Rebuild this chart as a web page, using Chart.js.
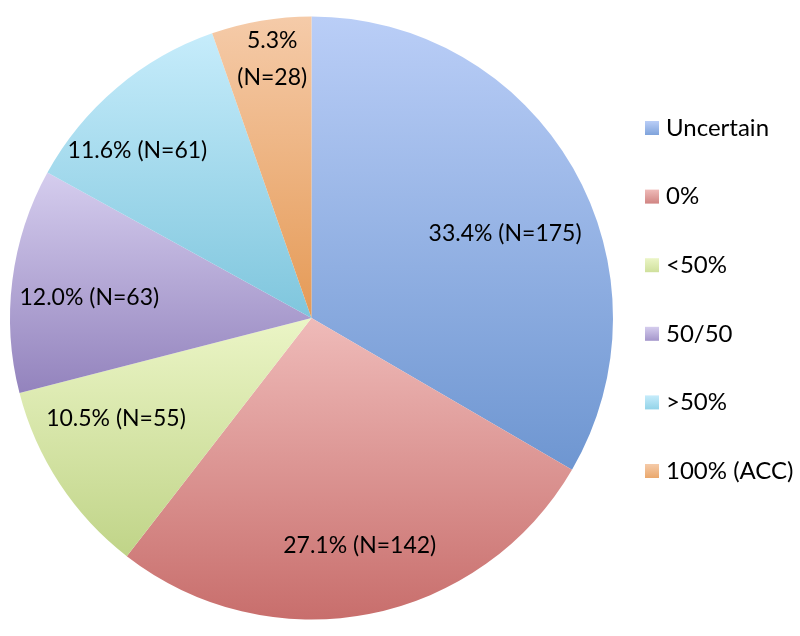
<!DOCTYPE html>
<html>
<head>
<meta charset="utf-8">
<script src="https://cdn.jsdelivr.net/npm/chart.js@4/dist/chart.umd.min.js"></script>
<style>
  html, body { margin: 0; padding: 0; background: #fff; }
  #chartHolder { width: 800px; height: 636px; }
</style>
</head>
<body>
<div id="chartHolder"><canvas id="pieChart" width="800" height="636"></canvas></div>
<script>
const categories = ["Uncertain", "0%", "<50%", "50/50", ">50%", "100% (ACC)"];
const counts = [175, 142, 55, 63, 61, 28];
const percents = ["33.4%", "27.1%", "10.5%", "12.0%", "11.6%", "5.3%"];

// gradient stops per slice (top, bottom)
const topColors = ["#bacef7", "#efbbb9", "#ebf5c6", "#d5cdee", "#c6ecfb", "#f5cba9"];
const bottomColors = ["#6e96d1", "#c86e6c", "#c0d488", "#9383bd", "#7fc6dd", "#e59a56"];
const legendColors = ["#7fa3db", "#d08482", "#cfe09c", "#a496cb", "#92d3e8", "#eaa86c"];

// label placement tweaks (fraction of radius, angle nudge in degrees)
const labelRadius = [0.70, 0.77, 0.73, 0.74, 0.80, 0.87];
const labelNudge = [6.4, -1, 6, -2, -6, 1];

const total = counts.reduce((a, b) => a + b, 0);

function sliceGradient(ctx) {
    const chart = ctx.chart;
    const area = chart.chartArea;
    if (!area) return topColors[ctx.dataIndex];
    const cx = (area.left + area.right) / 2;
    const cy = (area.top + area.bottom) / 2;
    const r = Math.min(area.right - area.left, area.bottom - area.top) / 2;
    let before = 0;
    for (let i = 0; i < ctx.dataIndex; i++) before += counts[i];
    const a0 = -Math.PI / 2 + before / total * Math.PI * 2;
    const a1 = a0 + counts[ctx.dataIndex] / total * Math.PI * 2;
    let minY = cy, maxY = cy;
    for (let k = 0; k <= 60; k++) {
        const a = a0 + (a1 - a0) * k / 60;
        const y = cy + Math.sin(a) * r;
        minY = Math.min(minY, y);
        maxY = Math.max(maxY, y);
    }
    const g = chart.ctx.createLinearGradient(0, minY, 0, maxY);
    g.addColorStop(0, topColors[ctx.dataIndex]);
    g.addColorStop(1, bottomColors[ctx.dataIndex]);
    return g;
}

const sliceLabels = {
    id: "sliceLabels",
    afterDatasetsDraw(chart) {
        const ctx = chart.ctx;
        const meta = chart.getDatasetMeta(0);
        ctx.save();
        ctx.fillStyle = "#000";
        ctx.font = "23px Lato, 'Liberation Sans', sans-serif";
        ctx.textAlign = "center";
        ctx.textBaseline = "middle";
        meta.data.forEach((arc, i) => {
            const p = arc.getProps(["x", "y", "startAngle", "endAngle", "outerRadius"], true);
            const mid = (p.startAngle + p.endAngle) / 2 + labelNudge[i] * Math.PI / 180;
            const rr = p.outerRadius * labelRadius[i];
            const x = p.x + Math.cos(mid) * rr;
            const y = p.y + Math.sin(mid) * rr;
            const txt = percents[i] + " (N=" + counts[i] + ")";
            if (counts[i] / total < 0.08) {
                ctx.fillText(percents[i], x, y - 18);
                ctx.fillText("(N=" + counts[i] + ")", x, y + 19);
            } else {
                ctx.fillText(txt, x, y);
            }
        });
        ctx.restore();
    }
};

const sideLegend = {
    id: "sideLegend",
    afterDraw(chart) {
        const ctx = chart.ctx;
        ctx.save();
        ctx.font = "24px Lato, 'Liberation Sans', sans-serif";
        ctx.textBaseline = "middle";
        ctx.textAlign = "left";
        categories.forEach((c, i) => {
            const y = 128 + i * 68.6;
            const g = ctx.createLinearGradient(0, y - 7, 0, y + 7);
            g.addColorStop(0, topColors[i]);
            g.addColorStop(1, legendColors[i]);
            ctx.fillStyle = g;
            ctx.fillRect(645, y - 7, 14, 14);
            ctx.fillStyle = "#000";
            ctx.fillText(c, 666, y);
        });
        ctx.restore();
    }
};

new Chart(document.getElementById("pieChart"), {
    type: "pie",
    data: {
        labels: categories,
        datasets: [{
            data: counts,
            backgroundColor: sliceGradient,
            borderWidth: 0
        }]
    },
    options: {
        responsive: false,
        animation: false,
        layout: { padding: { left: 10, right: 187, top: 16, bottom: 16 } },
        plugins: {
            legend: { display: false },
            tooltip: { enabled: false }
        }
    },
    plugins: [sliceLabels, sideLegend]
});
</script>
</body>
</html>
